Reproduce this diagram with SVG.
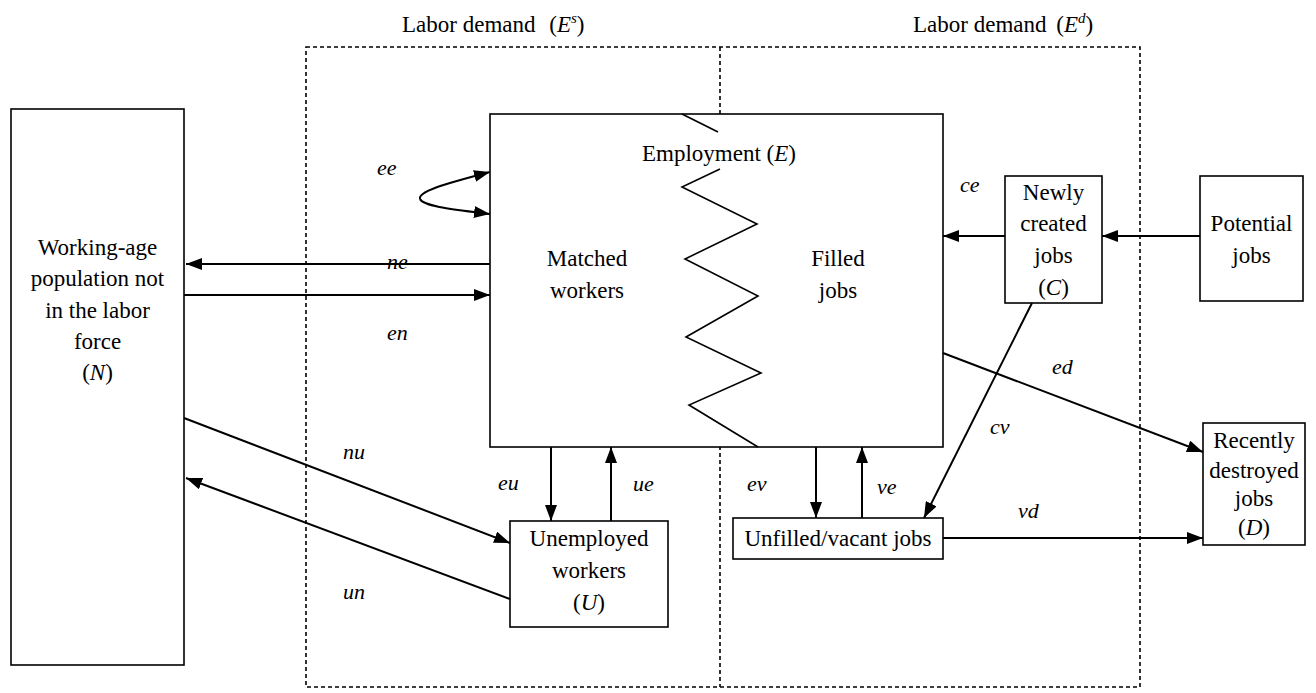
<svg xmlns="http://www.w3.org/2000/svg" width="1316" height="693" viewBox="0 0 1316 693">
<style>
.box{fill:#fff;stroke:#000;stroke-width:1.6}
.dash{fill:none;stroke:#000;stroke-width:1.6;stroke-dasharray:4 3}
.t{font-family:"Liberation Serif","Times New Roman",serif;font-size:23px;fill:#000;text-anchor:middle}
.i{font-family:"Liberation Serif","Times New Roman",serif;font-size:22px;font-style:italic;fill:#000}
.c{fill:none;stroke:#000;stroke-width:2}
.z{fill:none;stroke:#000;stroke-width:1.6}
</style>
<defs>
<marker id="ah" viewBox="0 0 16 12" refX="16" refY="6" markerWidth="16" markerHeight="12" markerUnits="userSpaceOnUse" orient="auto">
<path d="M0,0 L16,6 L0,12 z" fill="#000"/>
</marker>
</defs>
<rect width="1316" height="693" fill="#fff"/>
<g id="regions">
<rect class="dash" x="306" y="47" width="834" height="640"/>
<line class="dash" x1="720" y1="47" x2="720" y2="687"/>
<text class="t" x="402" y="32" style="text-anchor:start">Labor demand <tspan dx="8">(</tspan><tspan font-style="italic">E</tspan><tspan font-style="italic" font-size="15" dy="-9">s</tspan><tspan dy="9">)</tspan></text>
<text class="t" x="913" y="32" style="text-anchor:start">Labor demand <tspan dx="4">(</tspan><tspan font-style="italic">E</tspan><tspan font-style="italic" font-size="15" dy="-9">d</tspan><tspan dy="9">)</tspan></text>
</g>
<g id="node-N">
<rect class="box" x="11" y="109" width="173" height="556"/>
<text class="t" x="97.5" y="255">Working-age</text>
<text class="t" x="97.5" y="286">population not</text>
<text class="t" x="97.5" y="318">in the labor</text>
<text class="t" x="97.5" y="349">force</text>
<text class="t" x="97.5" y="380">(<tspan font-style="italic">N</tspan>)</text>
</g>
<g id="node-E">
<rect class="box" x="490" y="114" width="453" height="333"/>
<polyline class="z" points="682,114 718,132"/>
<polyline class="z" points="720,169 682,187 757,224 685,259 758,296 686,337 761,373 689,405 758,447"/>
<text class="t" x="719" y="161">Employment (<tspan font-style="italic">E</tspan>)</text>
<text class="t" x="587" y="266">Matched</text>
<text class="t" x="587" y="298">workers</text>
<text class="t" x="838" y="266">Filled</text>
<text class="t" x="838" y="298">jobs</text>
</g>
<g id="node-U">
<rect class="box" x="510" y="521" width="158" height="106"/>
<text class="t" x="589" y="546">Unemployed</text>
<text class="t" x="589" y="578">workers</text>
<text class="t" x="589" y="610">(<tspan font-style="italic">U</tspan>)</text>
</g>
<g id="node-V">
<rect class="box" x="733" y="518" width="210" height="41"/>
<text class="t" x="838" y="546">Unfilled/vacant jobs</text>
</g>
<g id="node-C">
<rect class="box" x="1005" y="176" width="97" height="127"/>
<text class="t" x="1053.5" y="200">Newly</text>
<text class="t" x="1053.5" y="231">created</text>
<text class="t" x="1053.5" y="263">jobs</text>
<text class="t" x="1053.5" y="295">(<tspan font-style="italic">C</tspan>)</text>
</g>
<g id="node-P">
<rect class="box" x="1200" y="176" width="103" height="125"/>
<text class="t" x="1251.5" y="231">Potential</text>
<text class="t" x="1251.5" y="263">jobs</text>
</g>
<g id="node-D">
<rect class="box" x="1203" y="423" width="102" height="122"/>
<text class="t" x="1254" y="448">Recently</text>
<text class="t" x="1254" y="478">destroyed</text>
<text class="t" x="1254" y="506">jobs</text>
<text class="t" x="1254" y="535">(<tspan font-style="italic">D</tspan>)</text>
</g>
<g id="connectors">
<path class="c" d="M420,199 C418,192 440,185 490,172" marker-end="url(#ah)"/>
<path class="c" d="M420,199 C423,206 450,209 490,214" marker-end="url(#ah)"/>
<line class="c" x1="490" y1="264" x2="186" y2="264" marker-end="url(#ah)"/>
<line class="c" x1="184" y1="295" x2="490" y2="295" marker-end="url(#ah)"/>
<line class="c" x1="184" y1="418" x2="510" y2="543" marker-end="url(#ah)"/>
<line class="c" x1="510" y1="599" x2="186" y2="478" marker-end="url(#ah)"/>
<line class="c" x1="551" y1="447" x2="551" y2="521" marker-end="url(#ah)"/>
<line class="c" x1="611" y1="521" x2="611" y2="447" marker-end="url(#ah)"/>
<line class="c" x1="816" y1="447" x2="816" y2="518" marker-end="url(#ah)"/>
<line class="c" x1="862" y1="518" x2="862" y2="447" marker-end="url(#ah)"/>
<line class="c" x1="1032" y1="303" x2="924" y2="518" marker-end="url(#ah)"/>
<line class="c" x1="943" y1="353" x2="1203" y2="452" marker-end="url(#ah)"/>
<line class="c" x1="943" y1="538" x2="1203" y2="538" marker-end="url(#ah)"/>
<line class="c" x1="1005" y1="236" x2="943" y2="236" marker-end="url(#ah)"/>
<line class="c" x1="1200" y1="236" x2="1102" y2="236" marker-end="url(#ah)"/>
<text class="i" x="377" y="175">ee</text>
<text class="i" x="387" y="269">ne</text>
<text class="i" x="387" y="340">en</text>
<text class="i" x="343" y="459">nu</text>
<text class="i" x="343" y="599">un</text>
<text class="i" x="498" y="490">eu</text>
<text class="i" x="633" y="491">ue</text>
<text class="i" x="747" y="491">ev</text>
<text class="i" x="877" y="494">ve</text>
<text class="i" x="990" y="434">cv</text>
<text class="i" x="1052" y="374">ed</text>
<text class="i" x="1018" y="518">vd</text>
<text class="i" x="960" y="192">ce</text>
</g>
</svg>
